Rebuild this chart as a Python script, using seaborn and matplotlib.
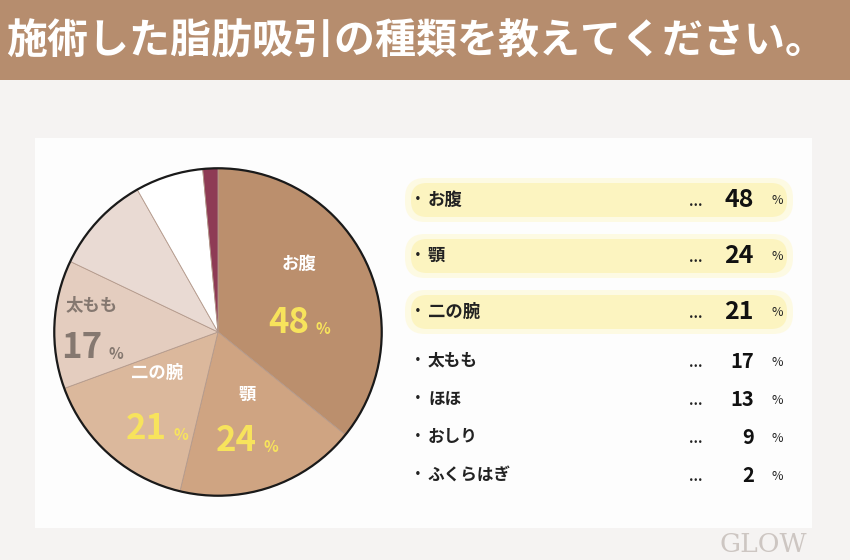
import numpy as np
import matplotlib.pyplot as plt
import seaborn as sns
from matplotlib.patches import FancyBboxPatch, Rectangle, Circle

title = '施術した脂肪吸引の種類を教えてください。'
parts = ['お腹', '顎', '二の腕', '太もも', 'ほほ', 'おしり', 'ふくらはぎ']
values = [48, 24, 21, 17, 13, 9, 2]
colors = ['#bb8f6d', '#cfa482', '#dbb89c', '#e4cdbf', '#e9dad3', '#ffffff', '#8e3b55']
highlight = [True, True, True, False, False, False, False]

sns.set_theme(style='white')
plt.rcParams['font.family'] = ['Noto Sans CJK JP', 'DejaVu Sans']

W, H = 850, 560
fig = plt.figure(figsize=(8.5, 5.6), dpi=100, facecolor='#f5f3f2')

# background layer in pixel coordinates
bg = fig.add_axes([0, 0, 1, 1])
bg.set_xlim(0, W)
bg.set_ylim(H, 0)
bg.axis('off')
bg.add_patch(Rectangle((0, 0), W, 80, color='#b68d6e', lw=0))
bg.add_patch(Rectangle((35, 138), 777, 390, color='white', lw=0, alpha=0.85))
bg.text(6, 42, title, color='white', fontsize=29.5, fontweight='bold', va='center', ha='left')
bg.text(720, 557, 'GLOW', family='DejaVu Serif', color='#cdc6c2', fontsize=19, va='bottom')

# right-hand list
rows_y = [200, 256, 312, 361, 399, 437, 475]
for lab, v, hl, y in zip(parts, values, highlight, rows_y):
    if hl:
        bg.add_patch(FancyBboxPatch((410, y - 17), 378, 34, boxstyle='round,pad=5,rounding_size=20',
                                    fc='#fdf8d2', ec='none', alpha=0.6))
        bg.add_patch(FancyBboxPatch((414, y - 14), 370, 28, boxstyle='round,pad=3,rounding_size=16',
                                    fc='#fcf4c0', ec='none'))
    fs_lab = 12.5 if hl else 12
    fs_num = 18 if hl else 14.5
    bg.text(418, y, '・', fontsize=10, va='center', ha='center', color='#222222', fontweight='bold')
    bg.text(428, y, lab, fontsize=fs_lab, va='center', ha='left', color='#222222', fontweight='bold')
    bg.text(696, y + 2, '...', fontsize=10, va='center', ha='center', color='#222222', fontweight='bold')
    bg.text(754, y, str(v), fontsize=fs_num, va='center', ha='right', color='#111111', fontweight='bold')
    bg.text(777, y + 1, '%', fontsize=9, va='center', ha='center', color='#222222')

# pie
cx, cy, r = 218, 332, 167
ax = fig.add_axes([(cx - r) / W, 1 - (cy + r) / H, 2 * r / W, 2 * r / H])
ax.pie(values, colors=colors, startangle=90, counterclock=False, radius=1,
       wedgeprops=dict(linewidth=0.6, edgecolor='#b49a8c'))
ax.add_patch(Circle((0, 0), 1, fill=False, ec='#1a1a1a', lw=1.6))
ax.set_xlim(-1.02, 1.02)
ax.set_ylim(-1.02, 1.02)
ax.set_aspect('equal')
ax.axis('off')

ang = 90 - np.cumsum([0] + values[:-1]) * 360 / sum(values) - np.array(values) * 180 / sum(values)
rad = [0.55, 0.55, 0.56, 0.72]
name_col = ['white', 'white', 'white', '#857870']
num_col = ['#f7e35c', '#f7e35c', '#f7e35c', '#857870']
gap = [0.18, 0.14, 0.17, 0.13]
for i in range(4):
    a = np.deg2rad(ang[i])
    x, y = rad[i] * np.cos(a), rad[i] * np.sin(a)
    if i == 3:
        x -= 0.05
    ax.text(x, y + gap[i], parts[i], color=name_col[i], fontsize=12.5, fontweight='bold',
            ha='center', va='center')
    ax.text(x + 0.06, y - gap[i], str(values[i]), color=num_col[i], fontsize=25, fontweight='bold',
            ha='right', va='center')
    ax.text(x + 0.10, y - gap[i] - 0.04, '%', color=num_col[i], fontsize=11, fontweight='bold',
            ha='left', va='center')

fig.savefig('out.png', dpi=100, facecolor=fig.get_facecolor())
